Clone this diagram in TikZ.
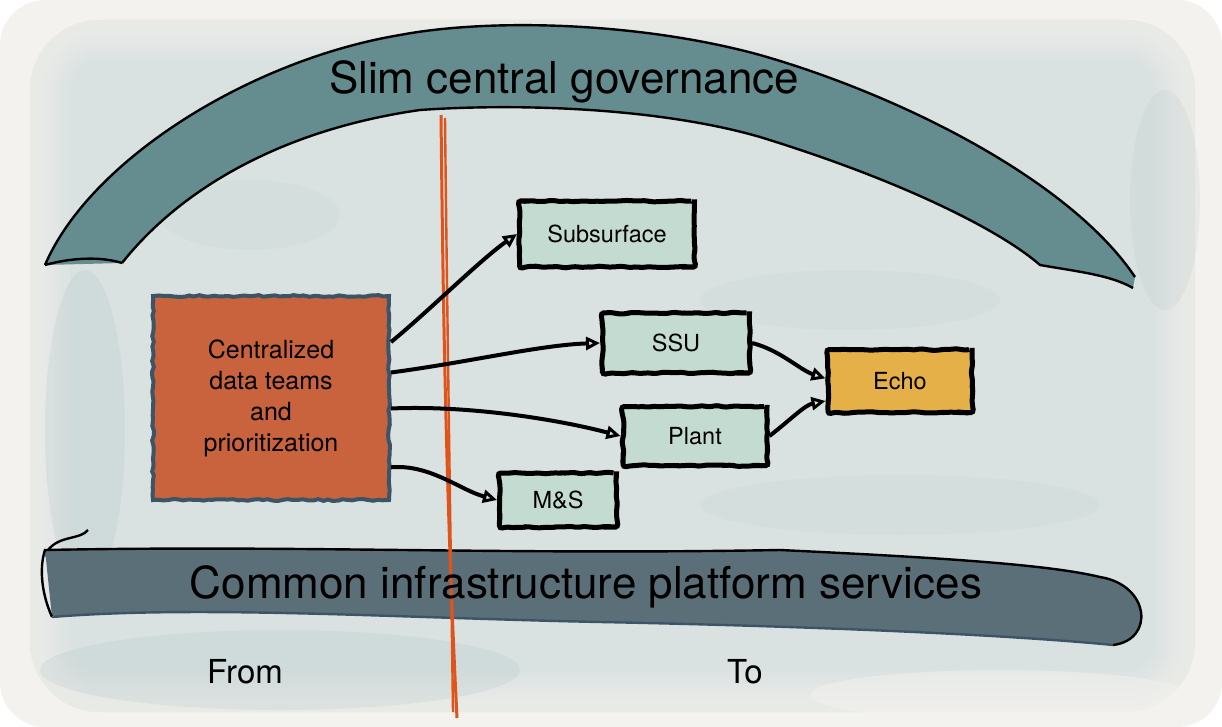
\documentclass[tikz,border=0pt]{standalone}
\usepackage{fontspec}
\setmainfont{TeX Gyre Heros}
\usetikzlibrary{arrows.meta,decorations.pathmorphing}

\definecolor{paper}{HTML}{F3F2EE}
\definecolor{wash}{HTML}{D9E2E1}
\definecolor{washdark}{HTML}{9DB6B6}
\definecolor{archteal}{HTML}{5F898C}
\definecolor{infraslate}{HTML}{485A64}
\definecolor{infraedge}{HTML}{5B6F78}
\definecolor{rust}{HTML}{C8633D}
\definecolor{rustline}{HTML}{3B5466}
\definecolor{mint}{HTML}{C3DBD1}
\definecolor{honey}{HTML}{E5B047}
\definecolor{divider}{HTML}{E0531B}

\tikzset{
  rough/.style={decorate,decoration={random steps,segment length=5pt,amplitude=0.9pt}},
  unitbox/.style={rough,draw=black,line width=5pt,fill=mint,rounded corners=3pt,
    align=center,inner sep=0pt,font=\fontsize{23.5}{28}\selectfont},
  flow/.style={draw=black,line width=4pt,-{Triangle[open,length=14pt,width=13pt,line width=3pt]}},
  bigtext/.style={font=\fontsize{44}{50}\selectfont},
  foottext/.style={font=\fontsize{33}{38}\selectfont}
}

\begin{document}
\begin{tikzpicture}[x=1pt,y=1pt,yscale=-1]
\pgfmathsetseed{7}
\useasboundingbox (0,0) rectangle (1222,727);

%Shape: paper
\fill[paper,rounded corners=45pt] (0,0) rectangle (1222,727);

%Shape: background wash, edge faded with paper strokes
\fill[wash,rounded corners=70pt] (30,20) rectangle (1195,712);
\foreach \w in {8,16,...,80}
  \draw[paper,opacity=0.12,line width=\w pt,rounded corners=70pt] (30,20) rectangle (1195,712);
\fill[washdark,opacity=0.16] (85,430) ellipse (40 and 160);
\fill[washdark,opacity=0.16] (280,670) ellipse (240 and 40);
\fill[washdark,opacity=0.12] (1165,200) ellipse (35 and 110);
\fill[washdark,opacity=0.07] (250,215) ellipse (90 and 35);
\fill[washdark,opacity=0.07] (850,300) ellipse (150 and 30);
\fill[washdark,opacity=0.07] (900,505) ellipse (200 and 30);
\fill[paper,opacity=0.5] (1000,695) ellipse (190 and 25);

%Shape: governance arch
\fill[archteal,opacity=0.95] (45,265) .. controls (90,160) and (250,60) .. (400,35)
  .. controls (490,18) and (640,22) .. (760,55)
  .. controls (900,95) and (1070,180) .. (1135,277)
  -- (1133,288) .. controls (1110,275) and (1080,272) .. (1040,265)
  .. controls (1000,230) and (900,180) .. (760,137)
  .. controls (660,108) and (520,103) .. (420,110)
  .. controls (280,130) and (180,190) .. (122,263) -- cycle;
\draw[line width=2.4pt] (45,265) .. controls (90,160) and (250,60) .. (400,35)
  .. controls (490,18) and (640,22) .. (760,55)
  .. controls (900,95) and (1070,180) .. (1135,277);
\draw[line width=2.4pt] (1133,288) .. controls (1110,275) and (1080,272) .. (1040,265)
  .. controls (1000,230) and (900,180) .. (760,137)
  .. controls (660,108) and (520,103) .. (420,110)
  .. controls (280,130) and (180,190) .. (122,263);
\draw[line width=2.4pt] (45,265) .. controls (70,258) and (100,256) .. (122,263);

%Shape: infrastructure bar
\shade[left color=infraedge,middle color=infraslate,right color=infraedge]
  (45,550) .. controls (300,545) and (500,555) .. (780,550)
  .. controls (950,558) and (1050,565) .. (1100,577)
  .. controls (1150,585) and (1155,640) .. (1113,645)
  .. controls (1000,634) and (800,626) .. (600,622)
  .. controls (400,618) and (200,605) .. (52,617) -- cycle;
\draw[line width=2.4pt] (52,617) .. controls (40,590) and (40,565) .. (45,550)
  .. controls (300,545) and (500,555) .. (780,550)
  .. controls (950,558) and (1050,565) .. (1100,577)
  .. controls (1150,585) and (1155,640) .. (1113,645);
\draw[line width=2.4pt] (48,550) .. controls (60,535) and (80,540) .. (88,530);
\draw[line width=2.4pt,rustline] (1113,645) .. controls (1000,634) and (800,626) .. (600,622)
  .. controls (400,618) and (200,605) .. (52,617);

%Shape: from/to divider
\draw[divider,line width=3pt] (441,115) .. controls (443,300) and (446,500) .. (457,718);
\draw[divider,line width=2.4pt] (445,118) .. controls (447,300) and (450,500) .. (453,712);

% Text Node
\node (govern) [bigtext] at (564,82) {Slim central governance};
% Text Node
\node (infra) [bigtext] at (586,587) {Common infrastructure platform services};
% Text Node
\node (from) [foottext] at (245,672) {From};
% Text Node
\node (to) [foottext] at (745,672) {To};

% Centralized box
\node (central) [rough,draw=rustline,line width=4pt,fill=rust,minimum width=236pt,
  minimum height=204pt,align=center,font=\fontsize{25}{31}\selectfont] at (271,398)
  {Centralized\\data teams\\and\\prioritization};

% Unit boxes
\node (subsurf) [unitbox,minimum width=175pt,minimum height=66pt] at (607,234) {Subsurface};
\node (ssu) [unitbox,minimum width=147pt,minimum height=60pt] at (676,343) {SSU};
\node (plant) [unitbox,minimum width=144pt,minimum height=59pt] at (695,436) {Plant};
\node (ms) [unitbox,minimum width=117pt,minimum height=54pt] at (558,500) {M\&S};
\node (echo) [unitbox,fill=honey,minimum width=144pt,minimum height=63pt] at (900,381) {Echo};

% Connectors
\draw[flow] (central.25) .. controls (430,310) and (480,260) .. (subsurf.west);
\draw[flow] (central.12) .. controls (470,362) and (540,345) .. (ssu.west);
\draw[flow] (central.-5) .. controls (470,405) and (560,420) .. (plant.west);
\draw[flow] (central.-30) .. controls (430,464) and (460,490) .. (ms.west);
\draw[flow] (ssu.east) .. controls (780,350) and (800,370) .. (echo.178);
\draw[flow] (plant.east) .. controls (790,420) and (805,405) .. (echo.195);

\end{tikzpicture}
\end{document}
